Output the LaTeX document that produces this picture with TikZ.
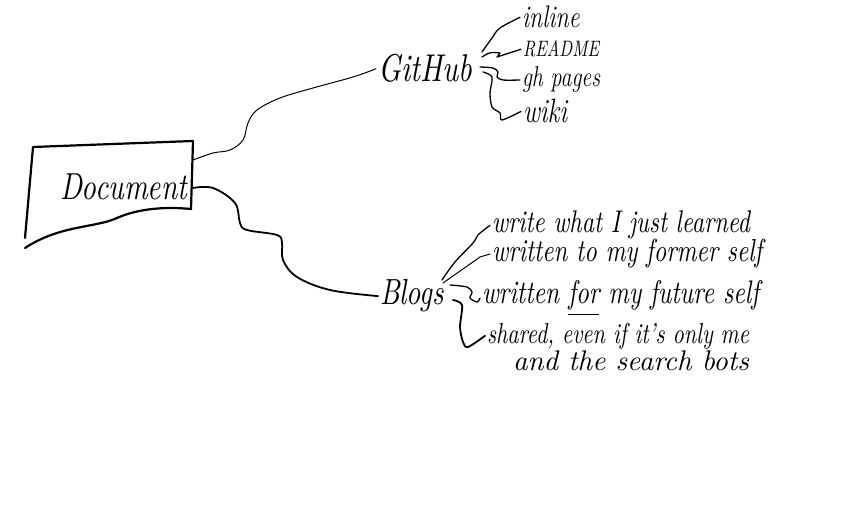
\documentclass[tikz,border=0pt]{standalone}
\usepackage{graphicx}
\newcommand{\fitw}[2]{\resizebox{#1}{!}{\scalebox{1}[1.3]{\itshape #2}}}
\newcommand{\hsz}[2]{\scalebox{1}[1.3]{\fontsize{#1}{#1}\selectfont\itshape #2}}
\begin{document}
\begin{tikzpicture}[x=1pt,y=-1pt,
  txt/.style={anchor=base west, inner sep=0pt, outer sep=2pt},
  ln/.style={line width=1.3pt, line cap=round, line join=round},
  thin ln/.style={line width=1.0pt, line cap=round, line join=round},
  thick ln/.style={line width=1.8pt, line cap=round, line join=round}]
\useasboundingbox[fill=white] (0,0) rectangle (842,510);

% Document box
\draw[line width=2.2pt, line join=round, line cap=round]
  (25,238) -- (33,147) -- (193,141) -- (191,209)
  .. controls (160,206) and (135,210) .. (117,218)
  .. controls (95,228) and (60,225) .. (25,248);
\coordinate (d1) at (193,160);
\coordinate (d2) at (193,188);

% texts
\node[txt] (doc) at (58,200) {\fitw{127pt}{Document}};
\node[txt] (gh) at (376,82) {\fitw{94pt}{GitHub}};
\node[txt] (inline) at (520,28) {\hsz{24pt}{inline}};
\node[txt] (readme) at (521,57) {\resizebox{76pt}{16pt}{\itshape README}};
\node[txt] (ghp) at (520,87) {\hsz{22pt}{gh pages}};
\node[txt] (wiki) at (521,123) {\hsz{26pt}{wiki}};
\node[txt] (blogs) at (378,305) {\fitw{64pt}{Blogs}};
\node[txt] (b1) at (490,233) {\fitw{258pt}{write what I just learned}};
\node[txt] (b2) at (490,262) {\fitw{270pt}{written to my former self}};
\node[txt] (b3) at (480,303) {\fitw{277pt}{written \underline{for} my future self}};
\node[txt] (b4) at (485,343) {\fitw{262pt}{shared, even if it's only me}};
\node[txt] (b5) at (511,370) {\resizebox{236pt}{!}{\itshape and the search bots}};

% main connectors
\draw[thin ln] plot[smooth, tension=0.6] coordinates {(d1) (213,153) (230,150) (243,140) (248,123) (257,110) (280,98) (313,88) (353,77) (gh.west)};
\draw[thick ln] plot[smooth, tension=0.6] coordinates {(d2) (213,188) (235,203) (240,223) (247,230) (277,235) (282,243) (283,260) (297,277) (330,290) (blogs.west)};

% GitHub branches
\coordinate (g1) at (482,52);
\coordinate (g2) at (482,57);
\coordinate (g3) at (480,67);
\coordinate (g4) at (483,72);
\draw[ln] plot[smooth, tension=0.6] coordinates {(g1) (492,38) (500,28) (inline.west)};
\draw[ln] (g2) .. controls (490,52) .. (500,53) -- (497,57) -- (readme.west);
\draw[ln] plot[smooth, tension=0.5] coordinates {(g3) (493,68) (498,72) (497,77) (503,80) (ghp.west)};
\draw[ln] plot[smooth, tension=0.5] coordinates {(g4) (492,77) (490,93) (492,107) (500,113) (502,120) (wiki.west)};

% Blogs branches
\coordinate (p1) at (442,280);
\coordinate (p2) at (443,283);
\coordinate (p3) at (450,285);
\coordinate (p4) at (453,300);
\draw[ln] plot[smooth, tension=0.6] coordinates {(p1) (455,262) (473,243) (478,235) (b1.west)};
\draw[thin ln] (p2) -- (480,257) -- (b2.west);
\draw[ln] plot[smooth, tension=0.5] coordinates {(p3) (467,287) (472,292) (470,298) (477,302) (b3.west)};
\draw[thick ln] plot[smooth, tension=0.5] coordinates {(p4) (462,305) (460,327) (463,342) (468,347) (b4.west)};
\end{tikzpicture}
\end{document}
